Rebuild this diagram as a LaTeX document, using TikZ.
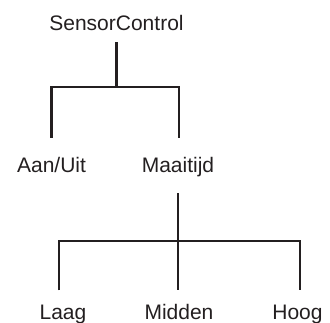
\documentclass[tikz,border=0pt]{standalone}
\usepackage{fontspec}
\setmainfont{Liberation Sans}
\definecolor{cink}{HTML}{231F20}
\tikzset{
  every picture/.style={line width=2.2pt},
  lbl/.style={font=\fontsize{21}{25}\selectfont, text=cink, inner sep=0pt, anchor=base},
  branch/.style={draw=cink, line cap=butt},
}

\begin{document}
\begin{tikzpicture}[x=1pt, y=-1pt]
  \useasboundingbox (0,0) rectangle (330,322);
  % labels
  \node[lbl] (sc) at (116.5,30) {SensorControl};
  \node[lbl] (au) at (51.5,172) {Aan/Uit};
  \node[lbl] (mt) at (178,172) {Maaitijd};
  \node[lbl] (la) at (63,319) {Laag};
  \node[lbl] (mi) at (179,319) {Midden};
  \node[lbl] (ho) at (297.5,319) {Hoog};
  % junctions
  \coordinate (j1) at (116.5,87);
  \coordinate (j2) at (178,241);
  % first level
  \draw[branch] ([yshift=-11pt]sc.south) -- (j1);
  \draw[branch] ([yshift=18pt]au.north) |- (j1) -| ([xshift=1pt,yshift=18pt]mt.north);
  % second level
  \draw[branch] ([yshift=-16pt]mt.south) -- (j2);
  \draw[branch] ([xshift=-4pt,yshift=13pt]la.north) |- (j2) -| ([xshift=2.5pt,yshift=13pt]ho.north);
  \draw[branch] (j2) -- ([xshift=-1pt,yshift=13pt]mi.north);
\end{tikzpicture}
\end{document}
